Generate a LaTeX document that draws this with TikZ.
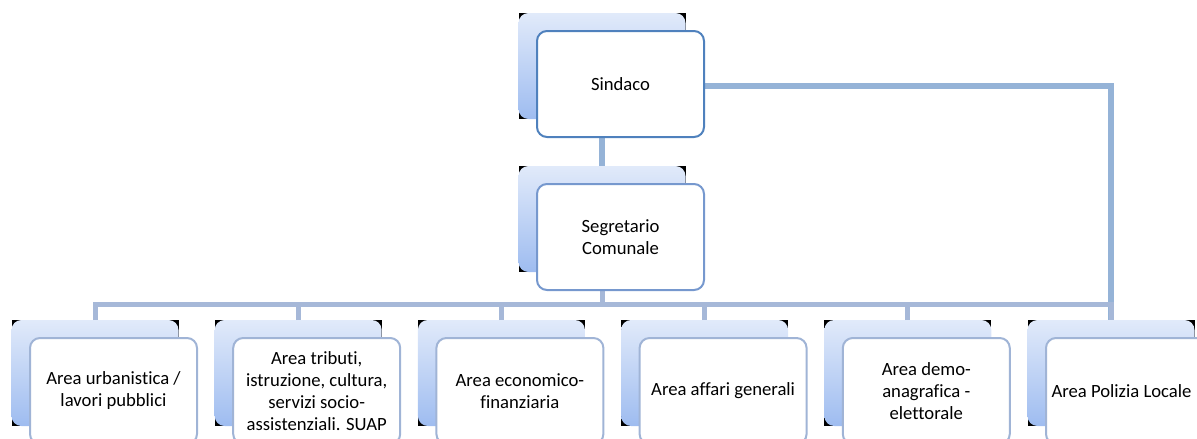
\documentclass[tikz,border=0pt]{standalone}
\usepackage{fontspec}
\setmainfont{Carlito}[Ligatures=NoCommon]
\usetikzlibrary{backgrounds}
\definecolor{borderdark}{RGB}{79,129,189}
\definecolor{bordermid}{RGB}{118,152,206}
\definecolor{borderlight}{RGB}{160,180,214}
\definecolor{linkblue}{RGB}{149,179,215}
\definecolor{busblue}{RGB}{166,184,216}
\definecolor{shadetop}{RGB}{225,234,250}
\definecolor{shadebottom}{RGB}{158,188,240}
\tikzset{every picture/.style={line width=0.75pt}}
\tikzset{
frontbox/.style={draw=borderlight, line width=1.5pt, fill=white, rounded corners=7.5pt,
  minimum width=125.25pt, minimum height=79.5pt, inner sep=0.75pt, outer sep=0pt,
  align=center, font=\fontsize{14}{16.5}\selectfont},
backbox/.style={fill=black, minimum width=125.25pt, minimum height=79.5pt, inner sep=0pt, outer sep=0pt},
backshade/.style={top color=shadetop, bottom color=shadebottom, rounded corners=7.5pt},
sindacolink/.style={draw=linkblue, line width=4.5pt},
buslink/.style={draw=busblue, line width=3.75pt}}

\begin{document}
\begin{tikzpicture}[x=0.75pt,y=0.75pt,yscale=-1,xscale=1]
\useasboundingbox (0,0) rectangle (1197,439);

%Shape: Rounded Rectangle (top)
\node [frontbox, draw=borderdark] (sindaco) at (620.5,84) {Sindaco};
%Shape: Rounded Rectangle (middle)
\node [frontbox, draw=bordermid] (segretario) at (620.5,237) {Segretario\\Comunale};
%Shape: Rounded Rectangle (bottom row)
\node [frontbox] (urbanistica) at (113.5,391) {Area urbanistica /\\lavori pubblici};
\node [frontbox] (tributi) at (316.7,391) {Area tributi,\\istruzione, cultura,\\servizi socio-\\assistenziali. SUAP};
\node [frontbox] (economico) at (519.9,391) {Area economico-\\finanziaria};
\node [frontbox] (affari) at (723.1,391) {Area affari generali};
\node [frontbox] (demo) at (926.3,391) {Area demo-\\anagrafica -\\elettorale};
\node [frontbox] (polizia) at (1129.5,391) {Area Polizia Locale\hspace*{12pt}};

\begin{pgfonlayer}{background}
%Shape: Shaded Rectangle behind each box
\foreach \nm in {sindaco,segretario,urbanistica,tributi,economico,affari,demo,polizia}{
  \node [backbox] (\nm back) at ([shift={(-18.5,-18)}]\nm.center) {};
  \shade [backshade] (\nm back.north west) rectangle (\nm back.south east);
}
%Straight Lines
\draw [sindacolink] (sindacoback.south) -- (segretarioback.north);
\draw [sindacolink] ([yshift=1.5pt]sindaco.east) -| (poliziaback.north);
\draw [buslink] (segretarioback.south) -- ++(0,32) coordinate (busmid);
\draw [buslink] (urbanisticaback.north) |- (busmid) -| (poliziaback.north);
\foreach \nm in {tributi,economico,affari,demo}
  \draw [buslink] (\nm back.north) -- (\nm back.north |- busmid);
\end{pgfonlayer}

\end{tikzpicture}
\end{document}
